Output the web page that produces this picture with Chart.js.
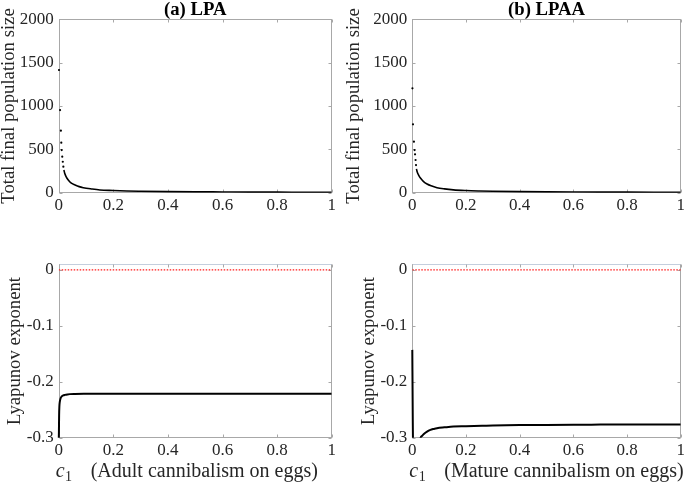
<!DOCTYPE html>
<html>
<head>
<meta charset="utf-8">
<script src="https://cdn.jsdelivr.net/npm/chart.js@4"></script>
<style>
body { margin:0; background:#fff; }
#wrap { position:relative; width:688px; height:483px; overflow:hidden; }
#wrap canvas { position:absolute; }
</style>
</head>
<body>
<div id="wrap">
  <canvas id="popA" style="left:0;top:0" width="344" height="240"></canvas>
  <canvas id="popB" style="left:344px;top:0" width="344" height="240"></canvas>
  <canvas id="lyaA" style="left:0;top:240px" width="344" height="243"></canvas>
  <canvas id="lyaB" style="left:344px;top:240px" width="344" height="243"></canvas>
</div>
<script>
// Settings
var serif = '"Liberation Serif", "Times New Roman", serif';
var tick_size = 17;
var label_size = 18.7;
var box_color = '#a8a8a8';
var text_color = '#262626';
Chart.defaults.font.family = serif;

// (a) LPA - total final population, isolated dots near c1 = 0
var popA_dotX = [0.001, 0.005, 0.008, 0.0095, 0.011, 0.013, 0.015, 0.017];
var popA_dotY = [1415, 953, 715, 577, 492, 415, 357, 300];
// (a) LPA - dense part of the curve
var popA_x = [0.019, 0.022, 0.027, 0.035, 0.045, 0.06, 0.075, 0.09, 0.12, 0.151, 0.2, 0.25, 0.3, 0.4, 0.5, 0.6, 0.7, 0.8, 0.9, 1.0];
var popA_y = [262, 224, 185, 146, 112, 89, 70, 58, 43, 31, 25, 20, 17, 12.5, 10, 8.5, 7, 6.3, 5.6, 5];

// (b) LPAA - total final population
var popB_dotX = [0.0005, 0.0026, 0.006, 0.0085, 0.0102, 0.0122, 0.0138];
var popB_dotY = [1204, 789, 588, 492, 443, 377, 319];
var popB_x = [0.0155, 0.018, 0.024, 0.031, 0.042, 0.055, 0.07, 0.092, 0.12, 0.153, 0.2, 0.25, 0.3, 0.4, 0.5, 0.6, 0.7, 0.8, 0.9, 1.0];
var popB_y = [275, 242, 200, 166, 128, 100, 79, 58, 44, 33, 25, 20, 16.5, 12.5, 10, 8.3, 7.1, 6.2, 5.5, 5];

// Lyapunov exponent (a) LPA
var lyaA_x = [0, 0.0008, 0.0015, 0.0025, 0.004, 0.007, 0.011, 0.016, 0.023, 0.032, 0.041, 0.06, 0.1, 0.15, 0.2, 0.3, 0.4, 0.5, 0.6, 0.7, 0.8, 0.9, 1.0];
var lyaA_y = [-0.31, -0.29, -0.26, -0.244, -0.236, -0.2295, -0.2262, -0.2245, -0.2234, -0.2226, -0.2221, -0.2218, -0.2216, -0.2215, -0.2215, -0.2215, -0.2215, -0.2215, -0.2215, -0.2215, -0.2215, -0.2215, -0.2215];

// Lyapunov exponent (b) LPAA
var lyaB_x = [0, 0.0015, 0.003, 0.01, 0.02, 0.031, 0.037, 0.043, 0.055, 0.0675, 0.08, 0.092, 0.12, 0.153, 0.2, 0.26, 0.3, 0.4, 0.5, 0.6, 0.7, 0.8, 0.9, 1.0];
var lyaB_y = [-0.143, -0.25, -0.33, -0.36, -0.33, -0.300, -0.2965, -0.2934, -0.2890, -0.2860, -0.2843, -0.2830, -0.2815, -0.2800, -0.2795, -0.2788, -0.2783, -0.2775, -0.2771, -0.2768, -0.2766, -0.2764, -0.2763, -0.2762];

// Zero reference line
var zero_x = [0, 1];
var zero_y = [0, 0];

// Axis ranges and ticks
var x_min = 0, x_max = 1;
var x_ticks = [0, 0.2, 0.4, 0.6, 0.8, 1];
var x_labels = ['0', '0.2', '0.4', '0.6', '0.8', '1'];
var pop_min = 0, pop_max = 2000;
var pop_ticks = [0, 500, 1000, 1500, 2000];
var pop_labels = ['0', '500', '1000', '1500', '2000'];
var lya_min = -0.3, lya_max = 0.01;
var lya_ticks = [-0.3, -0.2, -0.1, 0];
var lya_labels = ['-0.3', '-0.2', '-0.1', '0'];

function pts(xs, ys) {
    var out = [];
    for (var i = 0; i < xs.length; i++) out.push({ x: xs[i], y: ys[i] });
    return out;
}

// box, inward ticks and texts (MATLAB look)
var panelPlugin = {
    id: 'panel',
    beforeDatasetsDraw: function(chart, args, o) {
        var a = chart.chartArea, ctx = chart.ctx;
        var L = Math.round(a.left) + 0.5, R = Math.round(a.right) - 0.5;
        var T = Math.round(a.top) + 0.5, B = Math.round(a.bottom) - 0.5;
        ctx.save();
        ctx.strokeStyle = box_color;
        ctx.lineWidth = 1;
        ctx.strokeRect(L, T, R - L, B - T);
        if (o.topColor) {
            ctx.strokeStyle = o.topColor;
            ctx.beginPath(); ctx.moveTo(L, T); ctx.lineTo(R, T); ctx.stroke();
            ctx.strokeStyle = box_color;
        }
        var tl = 3;
        ctx.beginPath();
        chart.scales.x.ticks.forEach(function(t) {
            var px = Math.round(chart.scales.x.getPixelForValue(t.value)) + 0.5;
            ctx.moveTo(px, B); ctx.lineTo(px, B - tl);
            ctx.moveTo(px, T); ctx.lineTo(px, T + tl);
        });
        chart.scales.y.ticks.forEach(function(t) {
            var py = Math.round(chart.scales.y.getPixelForValue(t.value)) + 0.5;
            ctx.moveTo(L, py); ctx.lineTo(L + tl, py);
            ctx.moveTo(R, py); ctx.lineTo(R - tl, py);
        });
        ctx.stroke();
        ctx.restore();
    },
    afterDraw: function(chart, args, o) {
        var a = chart.chartArea, ctx = chart.ctx;
        var cx = (a.left + a.right) / 2;
        ctx.save();
        ctx.fillStyle = '#000';
        if (o.title) {
            ctx.font = 'bold ' + label_size + 'px ' + serif;
            ctx.textAlign = 'center';
            ctx.textBaseline = 'alphabetic';
            ctx.fillText(o.title, cx, 15);
        }
        if (o.yTitle) {
            ctx.save();
            ctx.translate(o.yTitleX, (a.top + a.bottom) / 2);
            ctx.rotate(-Math.PI / 2);
            ctx.font = label_size + 'px ' + serif;
            ctx.fillStyle = text_color;
            ctx.textAlign = 'center';
            ctx.textBaseline = 'middle';
            ctx.fillText(o.yTitle, 0, 0);
            ctx.restore();
        }
        if (o.xTitle) {
            // c_1 (math) followed by the description
            var f = 20, base = 237;
            var x = a.left - 3;
            ctx.fillStyle = text_color;
            ctx.textAlign = 'left';
            ctx.textBaseline = 'alphabetic';
            ctx.font = 'italic ' + f + 'px ' + serif;
            ctx.fillText('c', x, base);
            var wc = ctx.measureText('c').width;
            ctx.font = (f * 0.7) + 'px ' + serif;
            ctx.fillText('1', x + wc + 0.5, base + 4);
            ctx.font = f + 'px ' + serif;
            ctx.fillText(o.xTitle, a.left + 32, base);
        }
        ctx.restore();
    }
};

function fixedTicks(values, labels) {
    return function(scale) {
        scale.ticks = values.map(function(v, i) { return { value: v, label: labels[i] }; });
    };
}

function makeChart(id, datasets, yMin, yMax, yTicks, yLabels, yWidth, pad, panel) {
    return new Chart(document.getElementById(id), {
        type: 'scatter',
        data: { datasets: datasets },
        plugins: [panelPlugin],
        options: {
            responsive: false,
            animation: false,
            devicePixelRatio: 1,
            layout: { padding: pad },
            plugins: { legend: { display: false }, tooltip: { enabled: false }, panel: panel },
            scales: {
                x: {
                    type: 'linear', min: x_min, max: x_max,
                    grid: { display: false, drawTicks: false }, border: { display: false },
                    afterBuildTicks: fixedTicks(x_ticks, x_labels),
                    ticks: { maxRotation: 0, padding: 3, autoSkip: false,
                             callback: function(v, i) { return x_labels[i]; },
                             color: text_color, font: { family: serif, size: tick_size } },
                    afterFit: function(s) { s.height = 30; }
                },
                y: {
                    type: 'linear', min: yMin, max: yMax,
                    grid: { display: false, drawTicks: false }, border: { display: false },
                    afterBuildTicks: fixedTicks(yTicks, yLabels),
                    ticks: { padding: 5, autoSkip: false,
                             callback: function(v, i) { return yLabels[i]; },
                             color: text_color, font: { family: serif, size: tick_size } },
                    afterFit: function(s) { s.width = yWidth; }
                }
            }
        }
    });
}

function dotSet(xs, ys) {
    return { data: pts(xs, ys), showLine: false, pointRadius: 1.1, pointBackgroundColor: '#000', pointBorderWidth: 0,
             clip: { left: 3, top: 0, right: 0, bottom: 0 } };
}
function curveSet(xs, ys, w) {
    return { data: pts(xs, ys), showLine: true, borderColor: '#000', borderWidth: w, pointRadius: 0,
             cubicInterpolationMode: 'monotone', clip: { left: 3, top: 0, right: 0, bottom: 0 } };
}
function zeroSet() {
    return { data: pts(zero_x, zero_y), showLine: true, borderColor: '#ff1a1a', borderWidth: 1.3,
             borderDash: [1.5, 1.5], pointRadius: 0, clip: 0 };
}

makeChart('popA', [dotSet(popA_dotX, popA_dotY), curveSet(popA_x, popA_y, 1.6)],
    pop_min, pop_max, pop_ticks, pop_labels, 58.7, { left: 0, right: 12.3, top: 19.3, bottom: 17.3 },
    { title: '(a) LPA', yTitle: 'Total final population size', yTitleX: 9 });

makeChart('popB', [dotSet(popB_dotX, popB_dotY), curveSet(popB_x, popB_y, 1.6)],
    pop_min, pop_max, pop_ticks, pop_labels, 68.3, { left: 0, right: 3.3, top: 19.3, bottom: 17.3 },
    { title: '(b) LPAA', yTitle: 'Total final population size', yTitleX: 10 });

makeChart('lyaA', [zeroSet(), curveSet(lyaA_x, lyaA_y, 2)],
    lya_min, lya_max, lya_ticks, lya_labels, 58.7, { left: 0, right: 12.3, top: 24.3, bottom: 15.3 },
    { yTitle: 'Lyapunov exponent', yTitleX: 15, xTitle: '(Adult cannibalism on eggs)', topColor: '#c4cedd' });

makeChart('lyaB', [zeroSet(), curveSet(lyaB_x, lyaB_y, 2)],
    lya_min, lya_max, lya_ticks, lya_labels, 68.3, { left: 0, right: 3.3, top: 24.3, bottom: 15.3 },
    { yTitle: 'Lyapunov exponent', yTitleX: 25, xTitle: '(Mature cannibalism on eggs)', topColor: '#c4cedd' });
</script>
</body>
</html>
